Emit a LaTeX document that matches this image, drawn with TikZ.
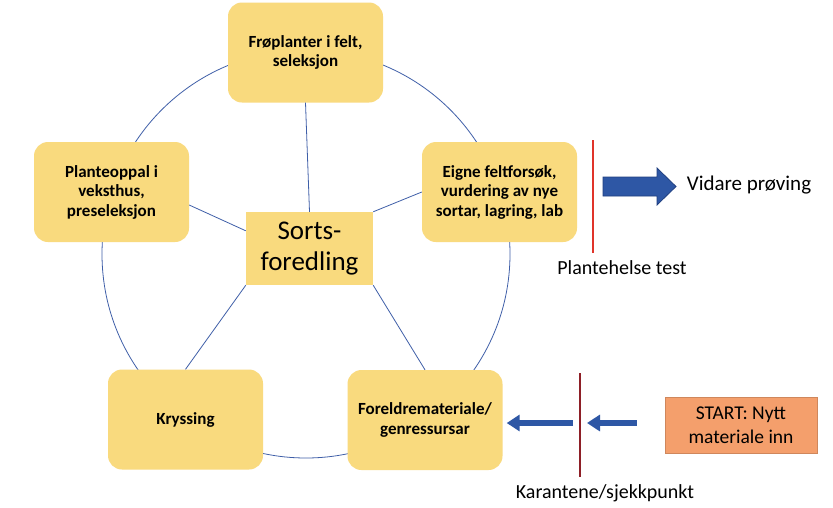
\documentclass[tikz,border=0pt]{standalone}
\usepackage{fontspec}
\setmainfont{Carlito}
\usetikzlibrary{arrows.meta}
\definecolor{boxy}{HTML}{F9DA7E}
\definecolor{ringblue}{HTML}{3F5FA8}
\definecolor{arrblue}{HTML}{2E57A5}
\definecolor{arrdark}{HTML}{203F80}
\definecolor{startor}{HTML}{F49F6C}
\definecolor{redline}{HTML}{E0342A}
\definecolor{darkred}{HTML}{8E1F27}
\begin{document}
\begin{tikzpicture}[x=1pt,y=-1pt,
  stage/.style={fill=boxy, rounded corners=14pt, minimum width=155pt, minimum height=100pt,
    align=center, inner sep=3pt, font=\fontsize{17}{19.5}\selectfont\bfseries},
  core/.style={fill=boxy, minimum width=127pt, minimum height=73pt, align=center,
    inner sep=2pt, font=\fontsize{27}{31}\selectfont},
  startbox/.style={fill=startor, draw=startor!85!black, line width=0.4pt, minimum width=152pt,
    minimum height=56pt, align=center, font=\fontsize{19.5}{24}\selectfont},
  lab/.style={inner sep=0pt, font=\fontsize{20}{24}\selectfont},
  spoke/.style={draw=ringblue, line width=0.8pt},
  smallarr/.style={draw=arrblue, line width=6pt, -{Triangle[length=13pt,width=16pt]}},
  bigarr/.style={fill=arrblue, draw=arrdark, line width=0.8pt, line join=miter}]
\useasboundingbox (0,0) rectangle (833,507);
\fill[white] (0,0) rectangle (833,507);
% ring
\coordinate (ring) at (306,254);
\draw[ringblue, line width=0.8pt] (ring) circle[radius=204pt];
% stages
\node[stage] (top) at (305.5,52.5) {Frøplanter i felt,\\seleksjon};
\node[stage] (pl) at (111.5,192) {Planteoppal i\\veksthus,\\preseleksjon};
\node[stage] (eig) at (499.5,192) {Eigne feltforsøk,\\vurdering av nye\\sortar, lagring, lab};
\node[stage] (kry) at (185.5,419.5) {Kryssing};
\node[stage] (for) at (425,420) {Foreldremateriale/\\genressursar};
\node[core] (c) at (309.5,248.5) {Sorts-\\foredling};
% spokes
\draw[spoke] (top.south) -- (c.north);
\draw[spoke] ([yshift=-13pt]pl.east) -- ([yshift=-19pt]c.north west);
\draw[spoke] (c.north east) -- (eig.west);
\draw[spoke] (c.south west) -- (kry.north);
\draw[spoke] (c.south east) -- (for.north);
% right side: plant health test
\coordinate (r1a) at (593,140);
\coordinate (r1b) at (593,253);
\draw[redline, line width=1.2pt] (r1a) -- (r1b);
\node[lab, font=\fontsize{21}{25}\selectfont] (vid) at (749,185) {Vidare prøving};
\node[lab] (plt) at (622,268) {Plantehelse test};
\path[bigarr] (603,177) -- (657,177) -- (657,168) -- (676,186.5) -- (657,205) -- (657,196) -- (603,196) -- cycle;
% bottom: quarantine
\node[startbox] (start) at (741,425) {START: Nytt\\materiale inn};
\coordinate (r2a) at (580,373);
\coordinate (r2b) at (580,477);
\draw[darkred, line width=1.2pt] (r2a) -- (r2b);
\node[lab] (kar) at (605,493) {Karantene/sjekkpunkt};
\coordinate (q1) at (573,423);
\coordinate (q2) at (587,423);
\draw[smallarr] (q1) -- ([xshift=4pt]for.east |- q1);
\draw[smallarr] ([xshift=-28pt]start.west |- q2) -- (q2);
\end{tikzpicture}
\end{document}
